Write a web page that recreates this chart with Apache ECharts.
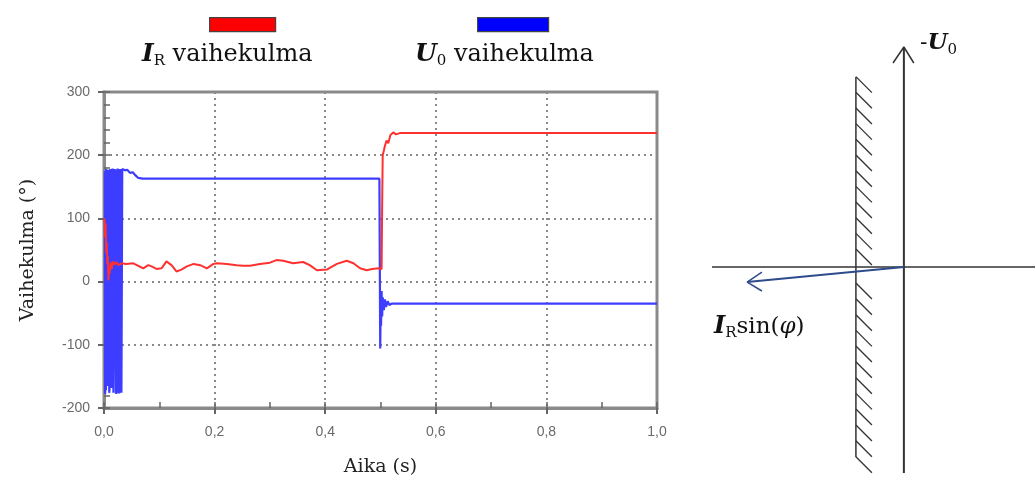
<!DOCTYPE html>
<html>
<head>
<meta charset="utf-8">
<script src="https://cdn.jsdelivr.net/npm/echarts@6/dist/echarts.min.js"></script>
<style>
  html, body { margin: 0; padding: 0; background: #fff; }
  #chart { width: 1035px; height: 483px; }
</style>
</head>
<body>
<div id="chart"></div>
<script>
// time axis ticks (s) and phase ticks (deg)
const timeTicks = [0, 0.2, 0.4, 0.6, 0.8, 1.0]
const phaseTicks = [-200, -100, 0, 100, 200, 300]

// I_R phase angle
const irTime = [0.001, 0.002, 0.003, 0.004, 0.005, 0.006, 0.007, 0.008, 0.009, 0.010,
  0.012, 0.014, 0.016, 0.019, 0.022, 0.026, 0.032, 0.040, 0.053, 0.062,
  0.071, 0.080, 0.086, 0.095, 0.104, 0.113, 0.122, 0.131, 0.140, 0.150,
  0.162, 0.174, 0.186, 0.198, 0.204, 0.222, 0.240, 0.252, 0.264, 0.282,
  0.300, 0.312, 0.324, 0.342, 0.360, 0.372, 0.385, 0.403, 0.421, 0.439,
  0.451, 0.463, 0.475, 0.485, 0.497, 0.502, 0.503, 0.504, 0.506, 0.508,
  0.511, 0.514, 0.518, 0.523, 0.528, 0.535, 0.541, 1.0]
const irPhase = [100, 70, 92, 45, 62, 28, 40, 2, 22, 12,
  30, 20, 32, 27, 31, 26, 29, 28, 29, 25,
  21, 26, 24, 20, 21, 32, 26, 16, 19, 24,
  28, 26, 21, 28, 29, 28, 26, 25, 25, 28,
  30, 34, 33, 29, 31, 26, 18, 19, 28, 33,
  29, 21, 18, 20, 21, 20, 120, 200, 207, 215,
  223, 219, 232, 236, 233, 235, 235, 235]

// U0 phase angle
const u0Time = [0.0015, 0.002, 0.003, 0.0035, 0.004, 0.0055, 0.006, 0.007, 0.0075, 0.009, 0.0095,
  0.011, 0.0115, 0.013, 0.0135, 0.015, 0.0155, 0.0165, 0.017, 0.019, 0.0195,
  0.021, 0.0215, 0.022, 0.0225, 0.024, 0.0245, 0.026, 0.0265, 0.027, 0.0275, 0.029, 0.0295, 0.031, 0.0315, 0.033, 0.038,
  0.042, 0.047, 0.052, 0.057, 0.062, 0.070, 0.498, 0.4995, 0.5005, 0.501,
  0.502, 0.503, 0.504, 0.506, 0.508, 0.510, 0.513, 0.516, 0.520, 1.0]
const u0Phase = [175, -178, -150, -172, 178, 176, -140, -165, 177, 175, -176,
  -150, 178, 176, -168, -160, 179, 177, -176, -175, 178,
  176, -177, 177, -178, -176, 179, 178, -176, 178, -177, -176, 178, 177, -176, 178, 176,
  177, 172, 173, 168, 164, 163, 163, -106, -20, -70,
  -15, -55, -25, -45, -28, -40, -31, -37, -35, -35]

// phasor sketch on the right (arbitrary units, origin at the crossing)
const horizLine = [[-6, 0], [4.1, 0]]
const u0Axis = [[0, -6.44], [0, 6.875]]
const u0Head = [[-0.34, 6.375], [0, 6.875], [0.31, 6.375]]
const boundary = [[-1.5, 5.94], [-1.5, -5.94]]
const hatchY = [5.95, 5.46, 4.97, 4.48, 3.99, 3.50, 3.01, 2.52, 2.03, 1.54, 1.05, 0.56,
  -0.50, -0.99, -1.49, -1.98, -2.47, -2.96, -3.46, -3.95, -4.44, -4.94, -5.43, -5.93]
const irArrow = [[0, 0], [-4.9, -0.47]]
const irHead = [[-4.44, -0.16], [-4.9, -0.47], [-4.44, -0.75]]

const pair = (xs, ys) => xs.map((x, i) => [x, ys[i]])

const chart = echarts.init(document.getElementById('chart'), null, { renderer: 'canvas' })

const gray = '#8a8a8a'
const serif = 'DejaVu Serif'

const sketchLine = (data, color, width) => ({
  type: 'line', xAxisIndex: 2, yAxisIndex: 2, data: data,
  symbol: 'none', silent: true, clip: false,
  lineStyle: { color: color, width: width }
})

const richStyle = (big) => ({
  i: { fontFamily: serif, fontSize: big, fontStyle: 'italic', fontWeight: 'bold', lineHeight: 28, fill: '#111' },
  s: { fontFamily: serif, fontSize: 15, lineHeight: 15, verticalAlign: 'bottom', fill: '#111' },
  t: { fontFamily: serif, fontSize: big - 1, lineHeight: 28, fill: '#111' },
  p: { fontFamily: serif, fontSize: big - 1, fontStyle: 'italic', lineHeight: 28, fill: '#111' }
})

chart.setOption({
  animation: false,
  grid: [
    { left: 104, right: 378, top: 92, bottom: 75, show: true, borderColor: gray, borderWidth: 3 },
    { left: 712, right: 0, top: 47, bottom: 8 }
  ],
  xAxis: [
    {
      type: 'value', gridIndex: 0, position: 'bottom',
      min: timeTicks[0], max: timeTicks[timeTicks.length - 1], interval: 0.2,
      name: 'Aika (s)', nameLocation: 'middle', nameGap: 50,
      nameTextStyle: { fontFamily: serif, fontSize: 19, color: '#222' },
      axisLine: { onZero: false, lineStyle: { color: gray, width: 3 } },
      axisTick: { length: 6, lineStyle: { color: '#666', width: 2 } },
      axisLabel: {
        margin: 17, color: '#6a6a6a', fontFamily: 'Liberation Sans', fontSize: 14,
        formatter: v => v.toFixed(1).replace('.', ',')
      },
      splitLine: { show: true, lineStyle: { color: gray, width: 2, type: [2, 4] } }
    },
    {
      type: 'value', gridIndex: 0, position: 'bottom', min: 0, max: 1, interval: 0.1,
      axisLine: { show: false, onZero: false }, axisLabel: { show: false }, splitLine: { show: false },
      axisTick: { inside: true, length: 6, lineStyle: { color: '#666', width: 1.5 } }
    },
    { type: 'value', gridIndex: 1, min: -6, max: 4.1, show: false }
  ],
  yAxis: [
    {
      type: 'value', gridIndex: 0, position: 'left',
      min: phaseTicks[0], max: phaseTicks[phaseTicks.length - 1], interval: 100,
      name: 'Vaihekulma (°)', nameLocation: 'middle', nameGap: 66, nameRotate: 90,
      nameTextStyle: { fontFamily: serif, fontSize: 19, color: '#222' },
      axisLine: { onZero: false, lineStyle: { color: gray, width: 3 } },
      axisTick: { length: 6, lineStyle: { color: '#666', width: 2 } },
      axisLabel: { margin: 14, color: '#6a6a6a', fontFamily: 'Liberation Sans', fontSize: 14 },
      splitLine: { show: true, lineStyle: { color: gray, width: 2, type: [2, 4] } }
    },
    {
      type: 'value', gridIndex: 0, position: 'left', min: -200, max: 300, interval: 20,
      axisLine: { show: false, onZero: false }, axisLabel: { show: false }, splitLine: { show: false },
      axisTick: { inside: true, length: 6, lineStyle: { color: '#666', width: 1.5 } }
    },
    { type: 'value', gridIndex: 1, min: -6.5, max: 6.875, show: false }
  ],
  series: [
    {
      name: 'U0 vaihekulma', type: 'line', data: pair(u0Time, u0Phase),
      symbol: 'none', lineStyle: { color: '#3d3dff', width: 2.2 }
    },
    {
      name: 'IR vaihekulma', type: 'line', data: pair(irTime, irPhase),
      symbol: 'none', lineStyle: { color: '#ff3030', width: 2 }
    },
    sketchLine(horizLine, '#333', 1.5),
    sketchLine(u0Axis, '#333', 2),
    sketchLine(u0Head, '#333', 1.5),
    sketchLine(boundary, '#333', 1.5),
    {
      type: 'custom', xAxisIndex: 2, yAxisIndex: 2, silent: true, clip: false,
      data: hatchY.map(y => [boundary[0][0], y]),
      renderItem: (params, api) => {
        const a = api.coord([api.value(0), api.value(1)])
        const b = api.coord([api.value(0) + 0.5, api.value(1) - 0.5])
        return {
          type: 'line',
          shape: { x1: a[0], y1: a[1], x2: b[0], y2: b[1] },
          style: { stroke: '#333', lineWidth: 1.3 }
        }
      }
    },
    sketchLine(irArrow, '#2e4b8c', 2),
    sketchLine(irHead, '#2e4b8c', 1.5)
  ],
  graphic: [
    { type: 'rect', left: 209, top: 17, shape: { width: 66, height: 14 }, style: { fill: '#ff0000', stroke: '#444', lineWidth: 1.2 } },
    { type: 'rect', left: 477, top: 17, shape: { width: 71, height: 14 }, style: { fill: '#0000ff', stroke: '#444', lineWidth: 1.2 } },
    { type: 'text', left: 142, top: 42, style: { text: '{i|I}{s|R}{t| vaihekulma}', rich: richStyle(25) } },
    { type: 'text', left: 415, top: 42, style: { text: '{i|U}{s|0}{t| vaihekulma}', rich: richStyle(25) } },
    { type: 'text', left: 920, top: 32, style: { text: '{t|-}{i|U}{s|0}', rich: richStyle(23) } },
    { type: 'text', left: 714, top: 315, style: { text: '{i|I}{s|R}{t|sin(}{p|φ}{t|)}', rich: richStyle(24) } }
  ]
})
</script>
</body>
</html>
